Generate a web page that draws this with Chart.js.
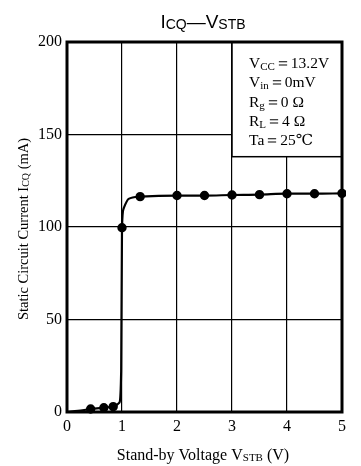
<!DOCTYPE html>
<html lang="en">
<head>
<meta charset="UTF-8">
<title>ICQ - VSTB</title>
<script src="https://cdn.jsdelivr.net/npm/chart.js"></script>
<style>
html,body{margin:0;padding:0;background:#fff;}
#wrap{width:361px;height:466px;}
</style>
</head>
<body>
<div id="wrap"><canvas id="c" width="361" height="466"></canvas></div>
<script>
const vstb   = [0, 0.2, 0.43, 0.67, 0.84, 0.95, 0.985, 1.0, 1.03, 1.12, 1.33, 2, 2.5, 3, 3.5, 4, 4.5, 5];
const icq    = [0, 0.6, 1.6, 2.3, 2.9, 5, 22, 99.6, 110, 115.2, 116.4, 117, 117, 117.3, 117.5, 118, 118, 118.2];
const marked = [0, 0, 1, 1, 1, 0, 0, 1, 0, 0, 1, 1, 1, 1, 1, 1, 1, 1];

const xTicks = [0, 1, 2, 3, 4, 5];
const yTicks = [0, 50, 100, 150, 200];

const titleParts = [{t:'I'},{t:'CQ',sub:1},{t:'—'},{t:'V'},{t:'STB',sub:1}];
const xTitleParts = [{t:'Stand-by Voltage V'},{t:'STB',sub:1},{t:' (V)'}];
const yTitleParts = [{t:'Static Circuit Current I'},{t:'CQ',sub:1},{t:' (mA)'}];
const condLines = [
  [{t:'V'},{t:'CC',sub:1},{t:'＝13.2V'}],
  [{t:'V'},{t:'in',sub:1},{t:'＝0mV'}],
  [{t:'R'},{t:'g',sub:1},{t:'＝0 Ω'}],
  [{t:'R'},{t:'L',sub:1},{t:'＝4 Ω'}],
  [{t:'Ta＝25℃'}]
];

const SERIF = '"Liberation Serif", "DejaVu Serif", serif';
const SANS = '"Liberation Sans", Arial, sans-serif';

function richWidth(ctx, parts, size, fam, subScale){
  let w = 0;
  parts.forEach(p=>{
    ctx.font = (p.sub ? Math.round(size*subScale) : size) + 'px ' + fam;
    w += ctx.measureText(p.t).width;
  });
  return w;
}
function drawRich(ctx, parts, x, y, size, fam, align, subScale, subDrop){
  subScale = subScale || 0.7;
  subDrop = subDrop == null ? size*0.18 : subDrop;
  const w = richWidth(ctx, parts, size, fam, subScale);
  let cx = align === 'center' ? x - w/2 : x;
  ctx.textBaseline = 'alphabetic';
  ctx.textAlign = 'left';
  parts.forEach(p=>{
    const s = p.sub ? Math.round(size*subScale) : size;
    ctx.font = s + 'px ' + fam;
    ctx.fillText(p.t, cx, y + (p.sub ? subDrop : 0));
    cx += ctx.measureText(p.t).width;
  });
}

const decor = {
  id: 'decor',
  beforeDatasetsDraw(chart){
    const {ctx, scales:{x, y}} = chart;
    // condition box
    const bx = x.getPixelForValue(3), by = y.getPixelForValue(200);
    const bw = x.getPixelForValue(5) - bx, bh = y.getPixelForValue(138) - by;
    ctx.save();
    ctx.fillStyle = '#fff';
    ctx.fillRect(bx, by, bw, bh);
    ctx.strokeStyle = '#000';
    ctx.lineWidth = 1.5;
    ctx.strokeRect(bx, by, bw, bh);
    ctx.fillStyle = '#000';
    condLines.forEach((ln, i)=>{
      drawRich(ctx, ln, bx + 17, by + 26 + i*19.3, 15.5, SERIF, 'left', 0.72, 2);
    });
    ctx.restore();
  },
  afterDatasetsDraw(chart){
    const {ctx, chartArea:a} = chart;
    ctx.save();
    ctx.strokeStyle = '#000';
    ctx.lineWidth = 3;
    ctx.strokeRect(a.left, a.top, a.right - a.left, a.bottom - a.top);
    ctx.fillStyle = '#000';
    drawRich(ctx, titleParts, 203, 28, 19, SANS, 'center', 0.72, 1);
    drawRich(ctx, xTitleParts, 203, 460, 16, SERIF, 'center', 0.7, 1);
    ctx.translate(28, 229);
    ctx.rotate(-Math.PI/2);
    drawRich(ctx, yTitleParts, 0, 0, 14.5, SERIF, 'center', 0.7, 1);
    ctx.restore();
  }
};

new Chart(document.getElementById('c'), {
  type: 'line',
  data: {
    datasets: [{
      data: vstb.map((v, i)=>({x: v, y: icq[i]})),
      borderColor: '#000',
      backgroundColor: '#000',
      borderWidth: 2.2,
      pointRadius: marked.map(m => m ? 3.6 : 0),
      pointHoverRadius: 0,
      cubicInterpolationMode: 'monotone',
      clip: 4
    }]
  },
  options: {
    responsive: false,
    animation: false,
    events: [],
    layout: {padding: {top: 42, right: 19, left: 0, bottom: 0}},
    plugins: {legend: {display: false}, tooltip: {enabled: false}},
    scales: {
      x: {
        type: 'linear', min: 0, max: 5,
        afterFit(s){ s.height = 54; },
        afterBuildTicks(s){ s.ticks = xTicks.map(v => ({value: v})); },
        ticks: {color: '#000', padding: 5, font: {family: SERIF, size: 16}},
        grid: {color: '#000', lineWidth: 1.2, drawTicks: false},
        border: {display: false}
      },
      y: {
        min: 0, max: 200,
        afterFit(s){ s.width = 67; },
        afterBuildTicks(s){ s.ticks = yTicks.map(v => ({value: v})); },
        ticks: {color: '#000', padding: 5, font: {family: SERIF, size: 16}},
        grid: {color: '#000', lineWidth: 1.2, drawTicks: false},
        border: {display: false}
      }
    }
  },
  plugins: [decor]
});
</script>
</body>
</html>
